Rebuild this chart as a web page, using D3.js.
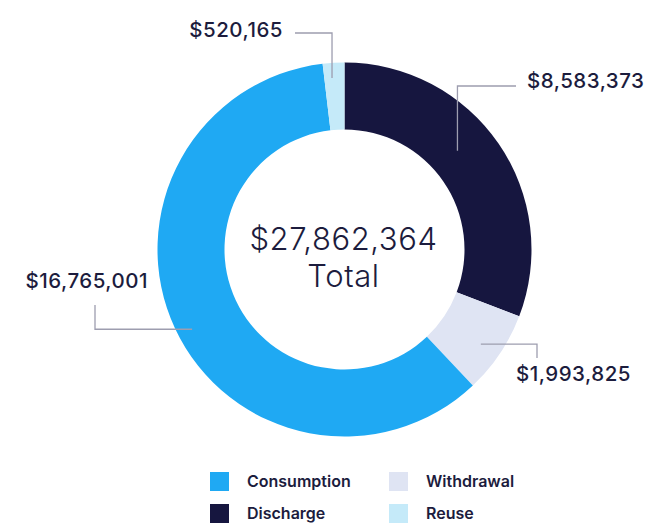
<!DOCTYPE html>
<html>
<head>
<meta charset="utf-8">
<script src="https://cdn.jsdelivr.net/npm/d3@7"></script>
<style>
  body { margin: 0; background: #fff; }
  svg { display: block; font-family: Inter, "Noto Sans", sans-serif; }
</style>
</head>
<body>
<script>
// chart data
var categories = ["Discharge", "Withdrawal", "Consumption", "Reuse"]
var values = [8583373, 1993825, 16765001, 520165]
var legend_order = ["Consumption", "Discharge", "Withdrawal", "Reuse"]
var total_label = "Total"

var width = 658
var height = 529
var cx = 344.5
var cy = 249.5
var outer_r = 187
var inner_r = 120
var text_color = "#1c1c3d"
var line_color = "#9d9daf"

var colors = d3.scaleOrdinal()
.domain(["Consumption", "Discharge", "Withdrawal", "Reuse"])
.range(["#1fa9f3", "#16163f", "#dfe4f3", "#c5eaf9"])

var fmt = d3.format("$,")

// where each callout sits (layout only)
var callouts = {
  Discharge:   { shift: -6.6, r: 150, type: "vh", elbow: 86,  end: 516, tx: 527, ty: 88,  anchor: "start" },
  Withdrawal:  { shift: 1.0,  r: 166, type: "hv", elbow: 537, end: 358, tx: 516, ty: 381, anchor: "start" },
  Consumption: { shift: -2.6, r: 172, type: "hv", elbow: 95,  end: 305, tx: 148, ty: 288, anchor: "end" },
  Reuse:       { shift: -0.8, r: 172, type: "vh", elbow: 33,  end: 295, tx: 283, ty: 37,  anchor: "end" }
}

var svg = d3.select("body").append("svg")
.attr("width", width)
.attr("height", height)

var pie = d3.pie().sort(null).value(function(d) { return d.value })
var slices = pie(categories.map(function(c, i) { return { name: c, value: values[i] } }))

var arc = d3.arc().innerRadius(inner_r).outerRadius(outer_r)

var g = svg.append("g")
.attr("transform", "translate(" + cx + "," + cy + ")")

g.selectAll("path.slice")
.data(slices)
.enter().append("path")
.attr("class", "slice")
.attr("d", arc)
.attr("fill", function(d) { return colors(d.data.name) })

// leader lines
g.selectAll("path.leader")
.data(slices)
.enter().append("path")
.attr("class", "leader")
.attr("fill", "none")
.attr("stroke", line_color)
.attr("stroke-width", 1.3)
.attr("d", function(d) {
  var c = callouts[d.data.name]
  var a = (d.startAngle + d.endAngle) / 2 + c.shift * Math.PI / 180
  var p = d3.pointRadial(a, c.r)
  var pts
  if (c.type == "vh") {
    pts = [p, [p[0], c.elbow - cy], [c.end - cx, c.elbow - cy]]
  } else {
    pts = [p, [c.elbow - cx, p[1]], [c.elbow - cx, c.end - cy]]
  }
  return d3.line()(pts)
})

svg.selectAll("text.value")
.data(slices)
.enter().append("text")
.attr("class", "value")
.attr("x", function(d) { return callouts[d.data.name].tx })
.attr("y", function(d) { return callouts[d.data.name].ty })
.attr("text-anchor", function(d) { return callouts[d.data.name].anchor })
.style("font-size", "20.5px")
.style("font-weight", 500)
.style("letter-spacing", "0.5px")
.style("fill", text_color)
.text(function(d) { return fmt(d.data.value) })

// centre total
svg.append("text")
.attr("x", cx - 1)
.attr("y", 250)
.attr("text-anchor", "middle")
.style("font-size", "31px")
.style("font-weight", 300)
.style("letter-spacing", "0.6px")
.style("fill", text_color)
.text(fmt(d3.sum(values)))

svg.append("text")
.attr("x", cx - 1)
.attr("y", 287)
.attr("text-anchor", "middle")
.style("font-size", "31px")
.style("font-weight", 300)
.style("letter-spacing", "0.6px")
.style("fill", text_color)
.text(total_label)

// legend
var legend = svg.append("g")
.selectAll("g")
.data(legend_order)
.enter().append("g")
.attr("transform", function(d, i) {
  return "translate(" + (210 + Math.floor(i / 2) * 179) + "," + (472 + (i % 2) * 32) + ")"
})

legend.append("rect")
.attr("width", 19)
.attr("height", 19)
.attr("fill", function(d) { return colors(d) })

legend.append("text")
.attr("x", 37)
.attr("y", 9.5)
.attr("dy", "0.35em")
.style("font-size", "16px")
.style("font-weight", 600)
.style("fill", text_color)
.text(function(d) { return d })
</script>
</body>
</html>
